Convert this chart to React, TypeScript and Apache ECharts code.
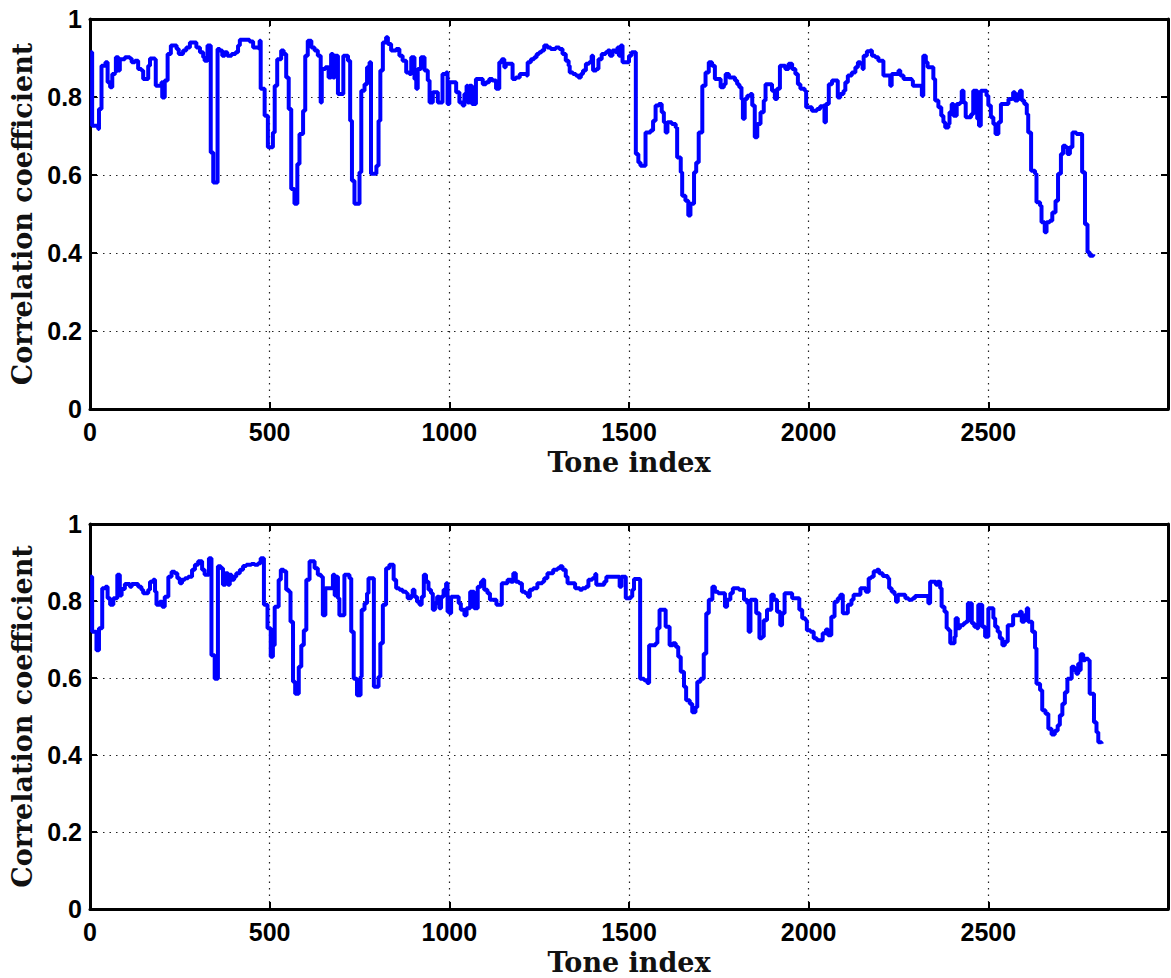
import React, { useEffect, useRef } from "react";
import * as echarts from "echarts";

const xAxisTitle = "Tone index";
const yAxisTitle = "Correlation coefficient";
const xMin = 0;
const xMax = 3000;
const xStep = 500;
const yMin = 0;
const yMax = 1;
const yStep = 0.2;

const topCurve: [number, number][] = [
  [1,0.915],[6,0.726],[23,0.718],[25,0.769],[32,0.880],[43,0.889],[49,0.838],[56,0.825],[62,0.859],[70,0.863],[72,0.902],[79,0.868],[83,0.897],[97,0.902],[111,0.899],[116,0.889],[125,0.893],[134,0.872],[143,0.868],[148,0.846],[162,0.880],[167,0.899],[181,0.897],[183,0.829],[199,0.838],[201,0.799],[208,0.842],[216,0.910],[225,0.932],[241,0.923],[247,0.910],[259,0.919],[268,0.927],[278,0.940],[296,0.927],[306,0.915],[315,0.902],[319,0.893],[327,0.932],[336,0.658],[343,0.581],[355,0.923],[361,0.919],[368,0.906],[375,0.915],[382,0.906],[394,0.910],[405,0.915],[412,0.932],[417,0.947],[444,0.942],[454,0.927],[468,0.925],[472,0.944],[475,0.821],[486,0.752],[495,0.671],[509,0.709],[514,0.829],[521,0.897],[532,0.919],[539,0.910],[546,0.850],[553,0.769],[560,0.564],[569,0.526],[577,0.628],[583,0.705],[593,0.765],[599,0.906],[606,0.944],[616,0.927],[625,0.919],[634,0.906],[642,0.786],[645,0.872],[655,0.876],[664,0.850],[671,0.910],[676,0.850],[681,0.906],[690,0.808],[705,0.906],[718,0.893],[724,0.739],[729,0.585],[736,0.526],[750,0.607],[755,0.816],[764,0.833],[771,0.876],[778,0.889],[782,0.603],[797,0.624],[803,0.739],[808,0.868],[815,0.940],[824,0.953],[829,0.936],[838,0.919],[852,0.923],[861,0.906],[870,0.893],[880,0.863],[889,0.859],[894,0.902],[903,0.846],[908,0.821],[912,0.872],[921,0.902],[931,0.868],[940,0.842],[945,0.786],[954,0.812],[968,0.786],[981,0.859],[991,0.863],[995,0.782],
  [1000,0.838],[1019,0.812],[1028,0.786],[1037,0.778],[1042,0.808],[1048,0.829],[1051,0.786],[1056,0.829],[1063,0.782],[1074,0.846],[1093,0.833],[1102,0.838],[1111,0.846],[1120,0.842],[1130,0.821],[1139,0.889],[1146,0.897],[1153,0.876],[1157,0.885],[1176,0.846],[1185,0.850],[1196,0.859],[1215,0.855],[1218,0.889],[1227,0.897],[1236,0.902],[1243,0.910],[1250,0.915],[1257,0.919],[1264,0.932],[1273,0.927],[1282,0.923],[1296,0.927],[1306,0.923],[1315,0.910],[1324,0.893],[1332,0.880],[1335,0.863],[1344,0.859],[1352,0.855],[1359,0.850],[1366,0.859],[1372,0.868],[1380,0.885],[1389,0.889],[1396,0.906],[1400,0.868],[1409,0.872],[1415,0.897],[1424,0.910],[1435,0.915],[1441,0.919],[1447,0.906],[1454,0.919],[1463,0.915],[1468,0.927],[1472,0.906],[1477,0.932],[1482,0.889],[1500,0.906],[1507,0.915],[1519,0.654],[1526,0.632],[1532,0.624],[1546,0.709],[1560,0.714],[1567,0.739],[1574,0.778],[1583,0.782],[1591,0.761],[1597,0.735],[1602,0.709],[1607,0.735],[1619,0.731],[1630,0.722],[1634,0.645],[1644,0.607],[1648,0.547],[1657,0.534],[1665,0.496],[1671,0.526],[1681,0.607],[1687,0.632],[1694,0.709],[1704,0.829],[1713,0.863],[1722,0.889],[1731,0.880],[1739,0.846],[1755,0.825],[1764,0.833],[1769,0.859],[1778,0.850],[1795,0.842],[1801,0.833],[1807,0.825],[1813,0.795],[1817,0.744],[1822,0.795],[1829,0.803],[1838,0.808],[1843,0.778],[1850,0.697],[1857,0.731],[1866,0.761],[1875,0.791],[1880,0.833],[1898,0.816],[1906,0.795],[1912,0.821],[1920,0.880],[1935,0.872],[1944,0.885],[1954,0.872],[1963,0.859],[1970,0.833],[1977,0.821],[1989,0.816],[1993,0.774],
  [2009,0.765],[2023,0.769],[2032,0.776],[2042,0.778],[2044,0.735],[2048,0.782],[2056,0.833],[2065,0.842],[2081,0.799],[2088,0.808],[2097,0.816],[2102,0.838],[2109,0.855],[2120,0.863],[2130,0.876],[2137,0.889],[2144,0.885],[2150,0.872],[2153,0.906],[2162,0.917],[2171,0.919],[2176,0.906],[2185,0.902],[2194,0.893],[2208,0.855],[2227,0.829],[2231,0.859],[2250,0.868],[2255,0.855],[2264,0.846],[2287,0.842],[2290,0.829],[2315,0.803],[2319,0.906],[2326,0.889],[2331,0.876],[2347,0.846],[2352,0.791],[2361,0.774],[2369,0.752],[2375,0.735],[2380,0.722],[2389,0.731],[2392,0.761],[2398,0.782],[2403,0.752],[2412,0.782],[2421,0.786],[2426,0.816],[2431,0.786],[2437,0.748],[2452,0.756],[2458,0.816],[2469,0.744],[2474,0.726],[2479,0.816],[2495,0.803],[2500,0.778],[2507,0.748],[2514,0.731],[2520,0.705],[2528,0.735],[2535,0.782],[2556,0.795],[2567,0.799],[2569,0.812],[2574,0.791],[2582,0.808],[2588,0.816],[2593,0.791],[2600,0.782],[2607,0.756],[2611,0.709],[2619,0.611],[2630,0.603],[2634,0.530],[2644,0.521],[2648,0.479],[2657,0.453],[2662,0.479],[2671,0.483],[2678,0.504],[2687,0.534],[2694,0.603],[2702,0.654],[2708,0.675],[2715,0.671],[2720,0.654],[2727,0.671],[2734,0.709],[2745,0.705],[2761,0.607],[2769,0.474],[2776,0.402],[2782,0.393],[2792,0.397]
];

const bottomCurve: [number, number][] = [
  [1,0.863],[6,0.720],[18,0.672],[25,0.729],[34,0.833],[43,0.837],[49,0.807],[56,0.790],[65,0.807],[76,0.868],[83,0.814],[88,0.831],[97,0.844],[111,0.837],[116,0.844],[134,0.837],[143,0.829],[148,0.820],[162,0.829],[167,0.850],[176,0.855],[181,0.824],[185,0.790],[194,0.798],[201,0.785],[208,0.811],[218,0.863],[227,0.876],[236,0.872],[243,0.859],[250,0.846],[256,0.855],[264,0.859],[273,0.863],[284,0.881],[292,0.894],[301,0.903],[312,0.881],[319,0.868],[331,0.911],[338,0.659],[347,0.598],[356,0.890],[364,0.885],[370,0.842],[377,0.872],[384,0.842],[389,0.868],[394,0.855],[401,0.863],[407,0.872],[417,0.881],[426,0.891],[435,0.894],[449,0.896],[458,0.894],[468,0.898],[475,0.911],[484,0.790],[494,0.729],[503,0.655],[509,0.685],[514,0.785],[525,0.855],[531,0.881],[539,0.877],[546,0.829],[553,0.824],[558,0.746],[565,0.590],[571,0.559],[581,0.629],[588,0.685],[595,0.724],[602,0.855],[611,0.903],[625,0.885],[634,0.868],[643,0.863],[648,0.763],[655,0.833],[676,0.868],[681,0.814],[685,0.863],[690,0.807],[694,0.763],[708,0.868],[722,0.859],[727,0.720],[734,0.598],[743,0.555],[753,0.603],[756,0.777],[764,0.794],[771,0.820],[775,0.859],[790,0.577],[803,0.603],[808,0.690],[815,0.790],[824,0.885],[833,0.894],[845,0.855],[852,0.833],[861,0.829],[870,0.824],[880,0.820],[884,0.807],[894,0.815],[898,0.829],[903,0.811],[910,0.798],[917,0.790],[923,0.811],[929,0.868],[935,0.850],[942,0.829],[949,0.820],[954,0.777],[960,0.794],[966,0.811],[972,0.781],[977,0.811],[984,0.829],[991,0.846],[995,0.772],
  [1000,0.768],[1005,0.811],[1026,0.794],[1032,0.777],[1042,0.763],[1048,0.781],[1058,0.824],[1069,0.781],[1079,0.837],[1088,0.850],[1093,0.855],[1097,0.829],[1106,0.820],[1113,0.803],[1131,0.790],[1146,0.846],[1162,0.855],[1171,0.850],[1178,0.872],[1185,0.850],[1194,0.846],[1202,0.824],[1211,0.820],[1219,0.811],[1224,0.829],[1233,0.833],[1245,0.846],[1259,0.850],[1264,0.859],[1273,0.872],[1289,0.881],[1301,0.885],[1308,0.890],[1315,0.881],[1324,0.863],[1329,0.846],[1350,0.833],[1363,0.829],[1370,0.833],[1380,0.837],[1387,0.855],[1398,0.859],[1406,0.870],[1409,0.842],[1431,0.850],[1437,0.863],[1474,0.837],[1479,0.863],[1491,0.807],[1505,0.811],[1509,0.829],[1514,0.857],[1531,0.598],[1542,0.594],[1551,0.587],[1556,0.685],[1574,0.690],[1579,0.729],[1585,0.777],[1602,0.733],[1613,0.685],[1622,0.690],[1630,0.681],[1637,0.655],[1644,0.616],[1653,0.577],[1659,0.542],[1669,0.533],[1676,0.511],[1685,0.524],[1690,0.590],[1699,0.598],[1708,0.663],[1715,0.768],[1722,0.803],[1732,0.837],[1739,0.824],[1748,0.820],[1767,0.785],[1773,0.803],[1782,0.820],[1789,0.833],[1806,0.829],[1820,0.803],[1829,0.794],[1833,0.720],[1838,0.803],[1854,0.768],[1863,0.703],[1870,0.707],[1875,0.750],[1884,0.777],[1896,0.816],[1903,0.803],[1912,0.772],[1921,0.737],[1926,0.768],[1933,0.820],[1954,0.807],[1974,0.777],[1982,0.755],[1991,0.750],[1995,0.724],[2005,0.720],[2014,0.703],
  [2023,0.698],[2039,0.716],[2048,0.726],[2054,0.711],[2063,0.759],[2072,0.798],[2081,0.807],[2088,0.816],[2095,0.768],[2109,0.790],[2119,0.803],[2125,0.816],[2144,0.833],[2159,0.824],[2167,0.859],[2174,0.863],[2181,0.877],[2190,0.881],[2196,0.872],[2206,0.865],[2220,0.859],[2224,0.833],[2231,0.824],[2239,0.816],[2243,0.798],[2248,0.816],[2269,0.807],[2278,0.803],[2289,0.807],[2296,0.813],[2333,0.794],[2338,0.850],[2354,0.842],[2359,0.850],[2366,0.833],[2370,0.785],[2378,0.772],[2384,0.729],[2389,0.724],[2394,0.690],[2406,0.707],[2409,0.755],[2415,0.729],[2421,0.737],[2431,0.742],[2437,0.746],[2443,0.794],[2454,0.742],[2461,0.733],[2468,0.729],[2472,0.790],[2483,0.733],[2491,0.707],[2500,0.781],[2514,0.755],[2519,0.733],[2526,0.720],[2532,0.703],[2539,0.685],[2546,0.694],[2554,0.737],[2569,0.763],[2588,0.772],[2593,0.746],[2600,0.763],[2607,0.781],[2611,0.746],[2622,0.720],[2630,0.677],[2634,0.585],[2644,0.568],[2650,0.516],[2659,0.507],[2667,0.468],[2676,0.453],[2685,0.463],[2693,0.477],[2699,0.503],[2706,0.533],[2713,0.563],[2720,0.598],[2732,0.629],[2739,0.620],[2745,0.611],[2750,0.637],[2755,0.620],[2757,0.662],[2764,0.646],[2770,0.650],[2778,0.646],[2782,0.559],[2794,0.485],[2801,0.459],[2806,0.433],[2815,0.429]
];

const LABEL_FONT = "'Liberation Sans', Arial, Helvetica, sans-serif";
const TITLE_FONT = "'DejaVu Serif', serif";

export default function App() {
  const ref = useRef<HTMLDivElement>(null);
  useEffect(() => {
    if (!ref.current) return;
    const chart = echarts.init(ref.current, null, { renderer: "svg" });
    const grids = [
      { left: 90, top: 19, width: 1079, height: 390 },
      { left: 90, top: 524, width: 1079, height: 385 },
    ];
    const axisLine = { show: true, onZero: false, lineStyle: { color: "#000", width: 3 } };
    const axisTick = { show: true, inside: true, length: 7, lineStyle: { color: "#000", width: 2 } };
    const splitLine = { show: true, lineStyle: { color: "#222", width: 1.2, type: [1.5, 5] as any } };
    const titleStyle = { color: "#111", fontFamily: TITLE_FONT, fontSize: 27, fontWeight: "bold" };
    const xAxes: any[] = [];
    const yAxes: any[] = [];
    grids.forEach((_, i) => {
      xAxes.push({
        type: "value", gridIndex: i, position: "bottom", min: xMin, max: xMax, interval: xStep,
        axisLine, axisTick, splitLine,
        axisLabel: {
          color: "#000", fontWeight: "bold", fontSize: 25, fontFamily: LABEL_FONT, margin: 10,
          formatter: (v: number) => (v >= xMax ? "" : String(v)),
        },
        name: xAxisTitle, nameLocation: "middle", nameGap: 40,
        nameTextStyle: titleStyle,
      });
      xAxes.push({
        type: "value", gridIndex: i, position: "top", min: xMin, max: xMax, interval: xStep,
        axisLine, axisTick, splitLine: { show: false }, axisLabel: { show: false },
      });
      yAxes.push({
        type: "value", gridIndex: i, position: "left", min: yMin, max: yMax, interval: yStep,
        axisLine, axisTick, splitLine,
        axisLabel: {
          color: "#000", fontWeight: "bold", fontSize: 25, fontFamily: LABEL_FONT, margin: 8,
          formatter: (v: number) => String(+v.toFixed(1)),
        },
        name: yAxisTitle, nameLocation: "middle", nameGap: 50, nameRotate: 90,
        nameTextStyle: titleStyle,
      });
      yAxes.push({
        type: "value", gridIndex: i, position: "right", min: yMin, max: yMax, interval: yStep,
        axisLine, axisTick, splitLine: { show: false }, axisLabel: { show: false },
      });
    });
    chart.setOption({
      animation: false,
      backgroundColor: "#fff",
      grid: grids,
      xAxis: xAxes,
      yAxis: yAxes,
      series: [
        {
          type: "line", xAxisIndex: 0, yAxisIndex: 0, data: topCurve, step: "end",
          showSymbol: false, symbol: "none", lineStyle: { color: "#0000ff", width: 4 },
        },
        {
          type: "line", xAxisIndex: 2, yAxisIndex: 2, data: bottomCurve, step: "end",
          showSymbol: false, symbol: "none", lineStyle: { color: "#0000ff", width: 4 },
        },
      ],
    });
    return () => chart.dispose();
  }, []);
  return (
    <div
      ref={ref}
      style={{ position: "fixed", left: 0, top: 0, width: 1171, height: 978, background: "#fff" }}
    />
  );
}
